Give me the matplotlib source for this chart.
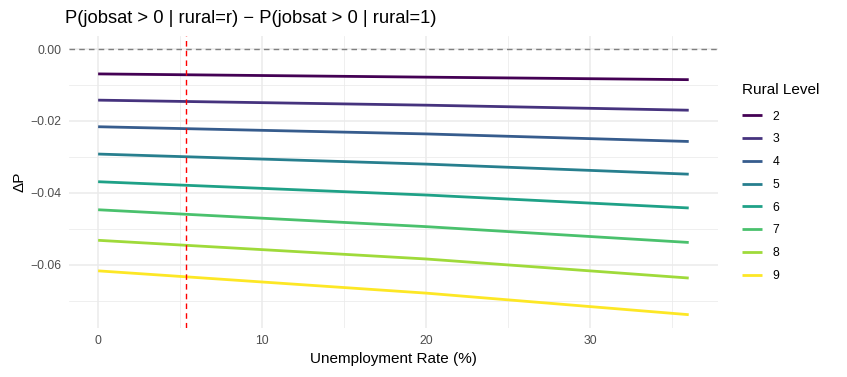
import numpy as np
import matplotlib
matplotlib.use("Agg")
import matplotlib.pyplot as plt
from matplotlib.ticker import MultipleLocator, FuncFormatter

# unemployment rate points (%)
unemp = [0, 20, 36]

# delta P, per rural level
rural_levels = ['2', '3', '4', '5', '6', '7', '8', '9']
delta_p = {
    '2': [-0.0069, -0.0078, -0.0085],
    '3': [-0.0142, -0.0156, -0.0170],
    '4': [-0.0216, -0.0236, -0.0257],
    '5': [-0.0292, -0.0320, -0.0348],
    '6': [-0.0369, -0.0406, -0.0442],
    '7': [-0.0447, -0.0494, -0.0538],
    '8': [-0.0532, -0.0584, -0.0637],
    '9': [-0.0617, -0.0679, -0.0739],
}
colors = ['#440154', '#46337E', '#365C8D', '#277F8E',
          '#1FA187', '#4AC16D', '#9FDA3A', '#FDE725']
mean_unemp = 5.35

plt.rcParams['font.family'] = ['Liberation Sans', 'DejaVu Sans']

fig = plt.figure(figsize=(8.47, 3.77), dpi=100)
ax = fig.add_axes([0.081, 0.130, 0.767, 0.775])

for lvl, c in zip(rural_levels, colors):
    ax.plot(unemp, delta_p[lvl], color=c, linewidth=2.0, label=lvl,
            solid_capstyle='butt', zorder=3)

ax.axhline(0, color='#7f7f7f', linestyle=(0, (4, 3)), linewidth=1.0, zorder=2)
ax.axvline(mean_unemp, color='red', linestyle=(0, (4, 3)), linewidth=1.0, zorder=4)

ax.set_xlim(-1.8, 37.8)
ax.set_ylim(-0.0776, 0.0037)

ax.xaxis.set_major_locator(MultipleLocator(10))
ax.xaxis.set_minor_locator(MultipleLocator(5))
ax.yaxis.set_major_locator(MultipleLocator(0.02))
ax.yaxis.set_minor_locator(MultipleLocator(0.01))
ax.yaxis.set_major_formatter(FuncFormatter(lambda v, p: f'{v:.2f}'.replace('-', '\u2212')))
ax.xaxis.set_major_formatter(FuncFormatter(lambda v, p: f'{v:.0f}'))

ax.grid(True, which='major', color='#ebebeb', linewidth=1.1, zorder=0)
ax.grid(True, which='minor', color='#ebebeb', linewidth=0.55, zorder=0)
ax.set_axisbelow(True)
for s in ax.spines.values():
    s.set_visible(False)
ax.tick_params(which='both', length=0, labelsize=8.8, labelcolor='#4d4d4d', pad=5)

ax.set_xlabel('Unemployment Rate (%)', fontsize=11, labelpad=4)
ax.set_ylabel('\u0394P', fontsize=11, labelpad=3)
fig.text(0.077, 0.952, 'P(jobsat > 0 | rural=r) \u2212 P(jobsat > 0 | rural=1)',
         fontsize=13.2, va='center', ha='left')

leg = ax.legend(title='Rural Level', loc='upper left', bbox_to_anchor=(1.02, 0.877),
                frameon=False, fontsize=8.8, title_fontsize=11,
                handlelength=1.6, labelspacing=0.88, handletextpad=0.9)
leg._legend_box.align = 'left'
leg._legend_box.sep = 10

fig.savefig('out.png', dpi=100)
